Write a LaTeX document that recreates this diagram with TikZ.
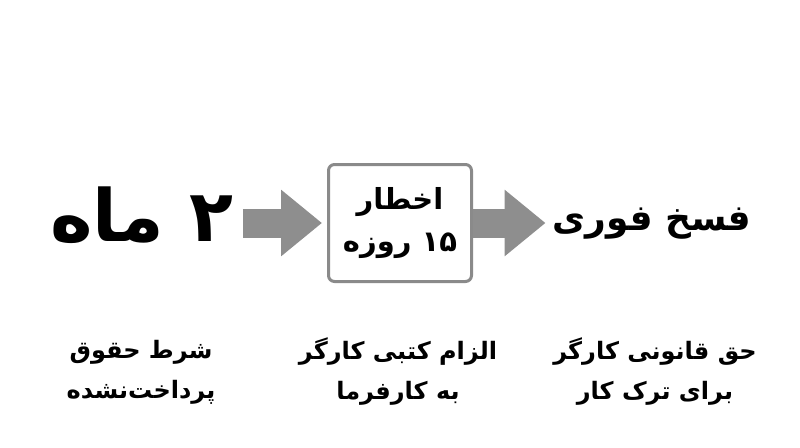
\documentclass[tikz,border=0pt]{standalone}
\usepackage{fontspec}
\newfontfamily\fa[Script=Arabic]{DejaVu Sans}
\TeXXeTstate=1
\usetikzlibrary{arrows.meta}
\definecolor{arrowgray}{HTML}{8E8E8E}
\definecolor{framegray}{HTML}{8A8A8A}
\tikzset{
  bigtext/.style={font=\fa\bfseries\fontsize{72}{80}\selectfont, inner sep=0pt},
  midtext/.style={font=\fa\bfseries\fontsize{36}{42}\selectfont, inner sep=0pt},
  boxtext/.style={font=\fa\bfseries\fontsize{29}{42}\selectfont, align=center,
    draw=framegray, line width=3pt, rounded corners=6pt, fill=white,
    minimum width=143pt, minimum height=117pt, inner sep=0pt},
  captext/.style={font=\fa\bfseries\fontsize{24}{40}\selectfont, align=center, inner sep=0pt},
  blockarrow/.style={arrowgray, line width=29pt,
    -{Triangle[length=41pt,width=64pt]}},
}
\begin{document}
\begin{tikzpicture}[x=1pt,y=-1pt]
    \useasboundingbox (0,0) rectangle (800,447);

    % top row
    \node[bigtext] (months) at (142,215) {\beginR ۲ ماه\endR};
    \node[boxtext] (notice) at (400,223) {\beginR اخطار\endR\\\beginR ۱۵ روزه\endR};
    \node[midtext] (cancel) at (652,224) {\beginR فسخ فوری\endR};

    \draw[blockarrow, shorten <=9pt, shorten >=5pt] (months.east |- notice.west) -- (notice.west);
    \draw[blockarrow, shorten >=7pt] (notice.east) -- (notice.east -| cancel.west);

    % captions
    \node[captext] (capA) at (141,372) {\beginR شرط حقوق\endR\\\beginR پرداخت^^^^200cنشده\endR};
    \node[captext] (capB) at (398,372) {\beginR الزام کتبی کارگر\endR\\\beginR به کارفرما\endR};
    \node[captext] (capC) at (655,372) {\beginR حق قانونی کارگر\endR\\\beginR برای ترک کار\endR};
\end{tikzpicture}
\end{document}
